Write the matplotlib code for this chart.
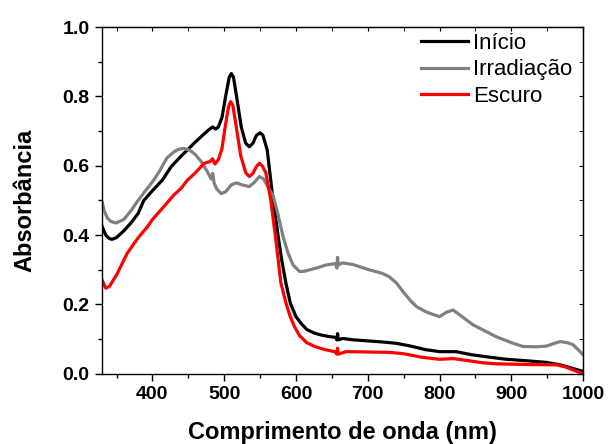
import matplotlib.pyplot as plt
from matplotlib.ticker import MultipleLocator

# Início (black)
wl_inicio = [330, 335, 340, 344, 350, 360, 370, 380, 388, 400, 414, 426, 440, 450, 458,
             470, 478, 484, 488, 492, 497, 502, 507, 510, 513, 518, 524, 530, 535, 540,
             545, 550, 554, 560, 567, 575, 580, 586, 592, 600, 607, 615, 625, 635, 645,
             655, 657, 658, 659, 665, 680, 700, 720, 740, 760, 780, 800, 823, 845, 870,
             893, 920, 949, 968, 985, 1000]
abs_inicio = [0.425, 0.400, 0.390, 0.388, 0.393, 0.412, 0.435, 0.462, 0.500, 0.528, 0.559, 0.597, 0.628, 0.648, 0.665,
              0.688, 0.703, 0.712, 0.706, 0.712, 0.740, 0.800, 0.855, 0.866, 0.855, 0.790, 0.710, 0.665, 0.655, 0.665,
              0.688, 0.695, 0.688, 0.645, 0.520, 0.400, 0.330, 0.262, 0.205, 0.165, 0.146, 0.128, 0.118, 0.112, 0.108,
              0.105, 0.098, 0.116, 0.098, 0.102, 0.098, 0.095, 0.092, 0.088, 0.080, 0.070, 0.064, 0.064, 0.055, 0.048,
              0.042, 0.038, 0.033, 0.026, 0.016, 0.007]

# Irradiação (gray)
wl_irrad = [330, 333, 337, 342, 349, 360, 370, 380, 390, 402, 410, 420, 430, 437, 444,
            452, 460, 468, 476, 482, 484, 486, 490, 496, 502, 510, 517, 525, 535, 542,
            549, 555, 562, 568, 575, 582, 589, 596, 605, 612, 619, 630, 642, 655, 657,
            658, 659, 665, 680, 702, 720, 730, 740, 750, 760, 768, 780, 790, 800, 810,
            819, 830, 847, 865, 879, 900, 916, 935, 949, 960, 968, 978, 986, 993, 1000]
abs_irrad = [0.495, 0.470, 0.450, 0.440, 0.435, 0.445, 0.470, 0.500, 0.527, 0.559, 0.585, 0.622, 0.640, 0.648, 0.650,
             0.645, 0.632, 0.612, 0.585, 0.562, 0.578, 0.550, 0.532, 0.520, 0.525, 0.545, 0.551, 0.545, 0.540, 0.552,
             0.569, 0.562, 0.535, 0.515, 0.460, 0.396, 0.348, 0.314, 0.295, 0.296, 0.300, 0.306, 0.314, 0.318, 0.305,
             0.336, 0.314, 0.320, 0.315, 0.300, 0.290, 0.280, 0.262, 0.235, 0.210, 0.194, 0.180, 0.172, 0.165, 0.178,
             0.184, 0.167, 0.141, 0.122, 0.107, 0.090, 0.079, 0.078, 0.080, 0.088, 0.093, 0.090, 0.084, 0.070, 0.055]

# Escuro (red)
wl_escuro = [330, 335, 340, 350, 365, 380, 393, 400, 412, 430, 440, 449, 460, 472, 480,
             484, 487, 492, 497, 502, 506, 509, 512, 517, 523, 530, 535, 540, 545, 549,
             553, 558, 565, 572, 579, 586, 592, 598, 605, 615, 626, 640, 654, 657, 658,
             659, 670, 700, 730, 750, 775, 800, 819, 840, 860, 879, 920, 963, 975, 990, 1000]
abs_escuro = [0.270, 0.247, 0.252, 0.285, 0.348, 0.392, 0.424, 0.445, 0.473, 0.516, 0.535, 0.559, 0.580, 0.607, 0.612,
              0.620, 0.605, 0.618, 0.650, 0.720, 0.770, 0.785, 0.775, 0.710, 0.630, 0.580, 0.569, 0.578, 0.598, 0.607,
              0.600, 0.580, 0.500, 0.386, 0.262, 0.205, 0.165, 0.136, 0.110, 0.090, 0.079, 0.070, 0.064, 0.057, 0.074,
              0.057, 0.064, 0.063, 0.062, 0.058, 0.048, 0.042, 0.044, 0.038, 0.032, 0.029, 0.027, 0.026, 0.020, 0.008, 0.0]

plt.rcParams['font.family'] = ['Liberation Sans', 'DejaVu Sans']

fig = plt.figure(figsize=(6.08, 4.44), dpi=100)
ax = fig.add_axes([0.168, 0.158, 0.791, 0.781])

ax.plot(wl_inicio, abs_inicio, color='black', lw=2.3, label='Início')
ax.plot(wl_irrad, abs_irrad, color='#808080', lw=2.3, label='Irradiação')
ax.plot(wl_escuro, abs_escuro, color='red', lw=2.3, label='Escuro')

ax.set_xlim(330, 1000)
ax.set_ylim(0, 1.0)
ax.xaxis.set_major_locator(MultipleLocator(100))
ax.xaxis.set_minor_locator(MultipleLocator(50))
ax.yaxis.set_major_locator(MultipleLocator(0.2))
ax.yaxis.set_minor_locator(MultipleLocator(0.1))
ax.yaxis.set_major_formatter(plt.FormatStrFormatter('%.1f'))
ax.tick_params(which='both', direction='out', top=False, right=False, width=1)
ax.tick_params(which='major', length=5, labelsize=14, pad=4)
ax.tick_params(which='minor', length=3)
for lab in ax.get_xticklabels() + ax.get_yticklabels():
    lab.set_fontweight('bold')
for s in ax.spines.values():
    s.set_linewidth(1)

# inward ticks on top and right
ax_t = ax.secondary_xaxis('top')
ax_t.xaxis.set_major_locator(MultipleLocator(100))
ax_t.xaxis.set_minor_locator(MultipleLocator(50))
ax_t.tick_params(which='both', direction='in', labeltop=False, length=3)
ax_r = ax.secondary_yaxis('right')
ax_r.yaxis.set_major_locator(MultipleLocator(0.2))
ax_r.yaxis.set_minor_locator(MultipleLocator(0.1))
ax_r.tick_params(which='both', direction='in', labelright=False, length=3)

ax.set_xlabel('Comprimento de onda (nm)', fontsize=17, fontweight='bold', labelpad=13)
ax.set_ylabel('Absorbância', fontsize=17, fontweight='bold', labelpad=19)

ax.legend(loc='upper right', bbox_to_anchor=(0.99, 1.0), frameon=False, fontsize=16,
          handlelength=2.1, handletextpad=0.25, labelspacing=0.26,
          borderaxespad=0.2, borderpad=0.05)

fig.savefig('out.png', dpi=100)
